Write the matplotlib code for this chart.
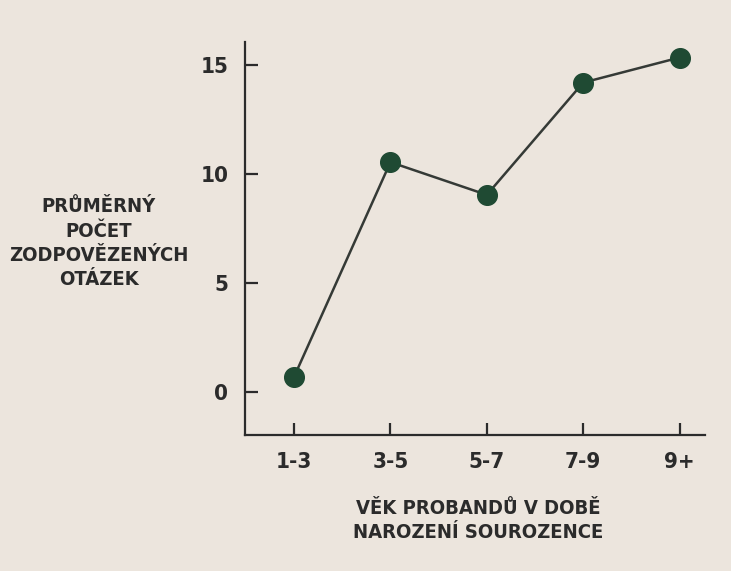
import matplotlib.pyplot as plt

plt.rcParams['font.family'] = ['DejaVu Sans']
plt.rcParams['font.stretch'] = 'condensed'

age_groups = ["1-3", "3-5", "5-7", "7-9", "9+"]
avg_answered = [0.7, 10.55, 9.05, 14.2, 15.35]
y_ticks = [0, 5, 10, 15]

BG = "#ece5dd"
TEXT = "#2b2b2b"

fig = plt.figure(figsize=(7.31, 5.71), dpi=100, facecolor=BG)
ax = fig.add_axes([0.335, 0.238, 0.629, 0.688], facecolor=BG)

x = list(range(len(age_groups)))
ax.plot(x, avg_answered, color="#353a36", linewidth=1.8, zorder=2)
ax.scatter(x, avg_answered, s=200, color="#1f4a33", edgecolor="#1f4a33", zorder=3)

ax.set_xlim(-0.51, 4.26)
ax.set_ylim(-1.97, 16.05)
ax.set_xticks(x)
ax.set_xticklabels(age_groups)
ax.set_yticks(y_ticks)

for s in ["top", "right"]:
    ax.spines[s].set_visible(False)
for s in ["left", "bottom"]:
    ax.spines[s].set_color(TEXT)
    ax.spines[s].set_linewidth(1.6)

ax.tick_params(direction="in", length=9, width=1.6, color=TEXT,
               labelsize=16, labelcolor=TEXT, pad=12)
for lbl in ax.get_xticklabels() + ax.get_yticklabels():
    lbl.set_fontweight("bold")
    lbl.set_fontstretch("condensed")

fig.text(0.135, 0.574, "PRŮMĚRNÝ\nPOČET\nZODPOVĚZENÝCH\nOTÁZEK",
         ha="center", va="center", fontsize=14.5, fontweight="bold",
         fontstretch="condensed", color=TEXT, linespacing=1.35)
fig.text(0.654, 0.088, "VĚK PROBANDŮ V DOBĚ\nNAROZENÍ SOUROZENCE",
         ha="center", va="center", fontsize=14.5, fontweight="bold",
         fontstretch="condensed", color=TEXT, linespacing=1.35)

fig.savefig("out.png", dpi=100, facecolor=BG)
